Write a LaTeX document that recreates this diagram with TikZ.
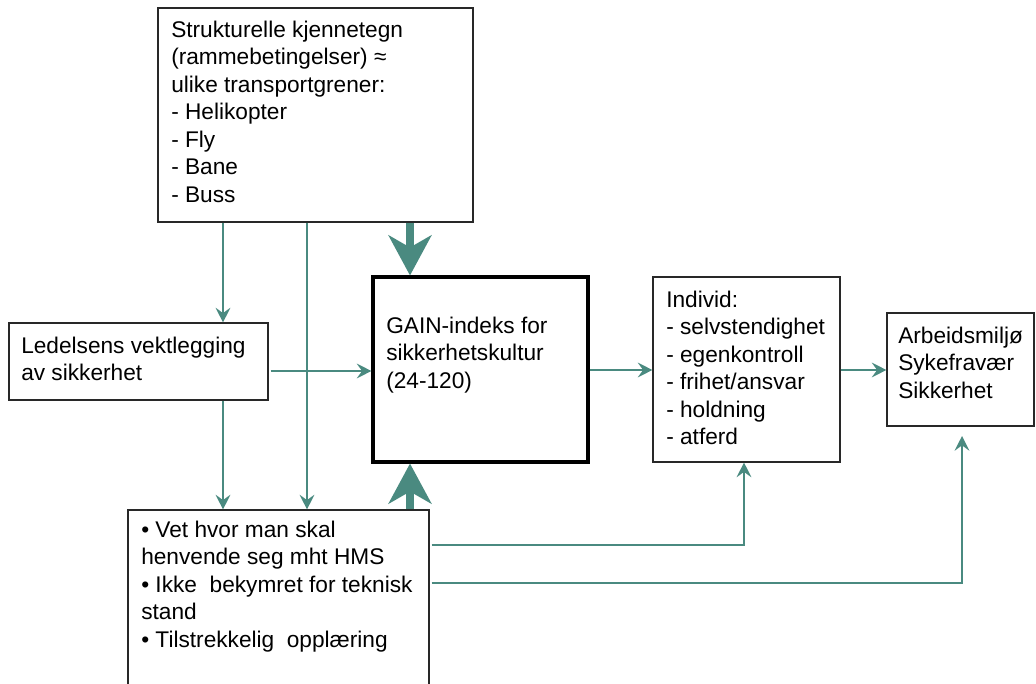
\documentclass[tikz,border=0pt]{standalone}
\usepackage{fontspec}
\setmainfont{Liberation Sans}
\usetikzlibrary{arrows.meta,fit}
\definecolor{teal1}{RGB}{74,138,128}
\definecolor{bord}{RGB}{40,40,40}
\tikzset{
  box/.style={draw=bord, line width=0.8pt, inner sep=0pt, fill=white},
  thickbox/.style={draw=black, line width=2.3pt, inner sep=0pt, fill=white},
  txt/.style={inner sep=0pt, anchor=north west, align=left, font=\fontsize{17}{20.6}\selectfont},
  arr/.style={draw=teal1, line width=2.2pt, -{Stealth[length=11pt,width=11pt,inset=4pt]}},
  bigarr/.style={draw=teal1, line width=5.4pt, -{Stealth[length=30pt,width=32pt,inset=9pt]}},
}
\newcommand{\fs}{\rule{0pt}{14pt}}
\begin{document}
\begin{tikzpicture}[x=0.75pt,y=-0.75pt]
\useasboundingbox (0,0) rectangle (1036,684);
% boxes
\node[box, fit={(158,8) (473,222)}] (top) {};
\node[box, fit={(9,323) (268,400)}] (lb) {};
\node[thickbox, fit={(373,277) (588,462)}] (gain) {};
\node[box, fit={(653,277) (840,462)}] (ind) {};
\node[box, fit={(887,313) (1034,426)}] (res) {};
\node[box, fit={(128,510) (429,700)}] (bot) {};
% texts
\node[txt] (topT) at (171,18.3) {\fs Strukturelle kjennetegn\\(rammebetingelser) ≈\\ulike transportgrener:\\- Helikopter\\- Fly\\- Bane\\- Buss};
\node[txt] (lbT) at (21,334.3) {\fs Ledelsens vektlegging\\av sikkerhet};
\node[txt] (gainT) at (386,314.3) {\fs GAIN-indeks for\\sikkerhetskultur\\(24-120)};
\node[txt] (indT) at (666,288.3) {\fs Individ:\\- selvstendighet\\- egenkontroll\\- frihet/ansvar\\- holdning\\- atferd};
\node[txt] (resT) at (898,324.3) {\fs Arbeidsmiljø\\Sykefravær\\Sikkerhet};
\node[txt] (botT) at (141,518.3) {\fs • Vet hvor man skal\\henvende seg mht HMS\\• Ikke~ bekymret for teknisk\\stand\\• Tilstrekkelig~ opplæring};
% helper coordinates
\coordinate (xa) at (223,0);
\coordinate (xb) at (307,0);
\coordinate (xc) at (410,0);
\coordinate (xd) at (744,0);
\coordinate (xe) at (962,0);
\coordinate (ya) at (0,371);
\coordinate (yb) at (0,370);
\coordinate (yc) at (0,545);
\coordinate (yd) at (0,583);
\coordinate (resIn) at (962,436);
% connectors
\draw[arr] (top.south -| xa) -- (lb.north -| xa);
\draw[arr] (top.south -| xb) -- (bot.north -| xb);
\draw[arr] (lb.south -| xa) -- (bot.north -| xa);
\draw[arr] ([xshift=1.5pt]lb.east |- ya) -- (gain.west |- ya);
\draw[bigarr] (top.south -| xc) -- (gain.north -| xc);
\draw[bigarr] (bot.north -| xc) -- (gain.south -| xc);
\draw[arr] (gain.east |- yb) -- (ind.west |- yb);
\draw[arr] (ind.east |- yb) -- (res.west |- yb);
\draw[arr] ([xshift=1.5pt]bot.east |- yc) -| (ind.south -| xd);
\draw[arr] ([xshift=1.5pt]bot.east |- yd) -| (resIn);
\end{tikzpicture}
\end{document}
